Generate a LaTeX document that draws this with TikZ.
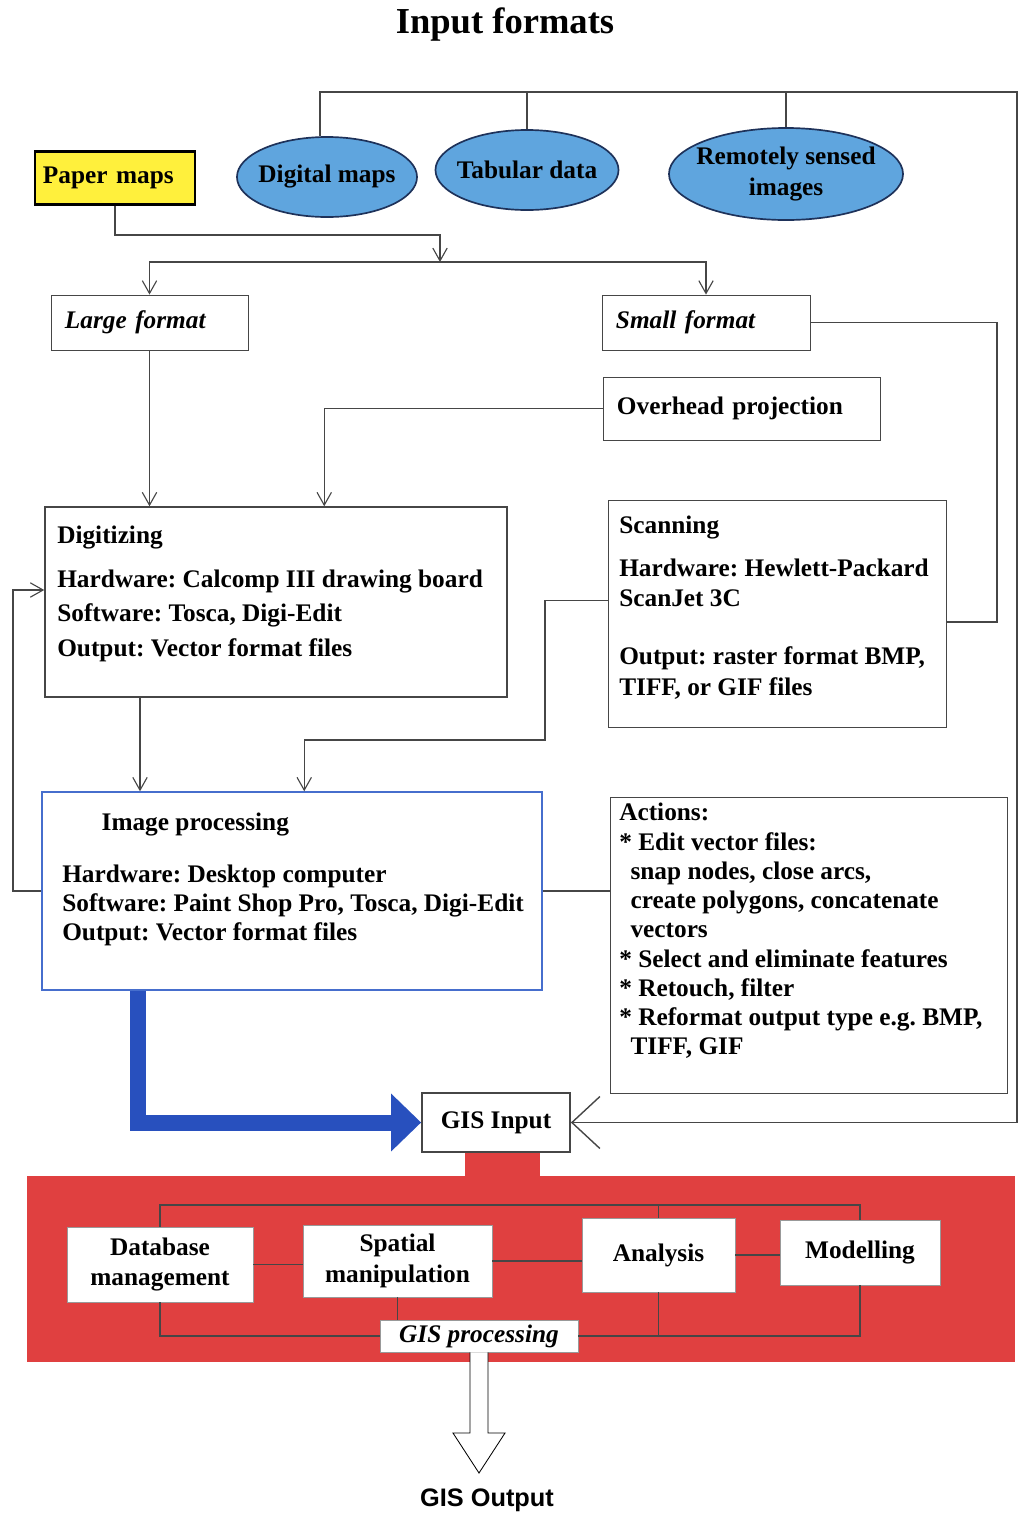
\documentclass[tikz,border=0pt]{standalone}
\usepackage{fontspec}
\setmainfont{Liberation Serif}
\setsansfont{Liberation Sans}
\frenchspacing
\usetikzlibrary{arrows.meta,calc,positioning,shapes.geometric}
\definecolor{paper}{RGB}{255,240,60}
\definecolor{sky}{RGB}{95,165,222}
\definecolor{navy}{RGB}{30,50,90}
\definecolor{blue}{RGB}{40,80,190}
\definecolor{frame}{RGB}{70,110,205}
\definecolor{red}{RGB}{224,64,64}
\definecolor{wire}{RGB}{70,70,70}
\begin{document}
\begin{tikzpicture}[x=0.025cm,y=-0.025cm,>={Straight Barb[length=3.2mm,width=3.6mm]},
  every node/.style={font=\bfseries\fontsize{18}{22}\selectfont},
  box/.style={draw=wire,line width=0.6pt,fill=white,align=center,inner sep=0pt},
  lbox/.style={box,align=left,inner xsep=0.35cm},
  tag/.style={lbox,font=\bfseries\itshape\fontsize{18}{22}\selectfont},
  blob/.style={ellipse,draw=navy,line width=1.2pt,fill=sky,align=center,inner sep=-6pt},
  body/.style={anchor=north west,align=left,inner sep=0pt,font=\bfseries\fontsize{18}{#1}\selectfont},
  cell/.style={fill=white,draw=black!40,line width=0.4pt,align=center,inner sep=0pt},
  link/.style={draw=wire,line width=0.8pt}]
\useasboundingbox (0,0) rectangle (1025,1514);
\fill[red] (27,1176) rectangle (1015,1362);
\fill[red] (465,1150) rectangle (540,1180);
\node[font=\bfseries\fontsize{26}{30}\selectfont] (title) at (505,25) {Input formats};
\node[lbox,draw=black,line width=1.5pt,fill=paper,inner xsep=0.2cm,text width=3.6cm,minimum height=1.325cm] (paper) at (115,178) {Paper maps};
\node[blob,minimum width=4.5cm,minimum height=2cm] (digital) at (327,177) {Digital maps};
\node[blob,minimum width=4.575cm,minimum height=2cm] (tabular) at (527,170) {Tabular data};
\node[blob,minimum width=5.85cm,minimum height=2.3cm] (remote) at (786,174) {Remotely sensed\\images};
\node[tag,text width=4.225cm,minimum height=1.375cm] (large) at (149.5,322.5) {Large format};
\node[tag,text width=4.5cm,minimum height=1.375cm] (small) at (706,322.5) {Small format};
\node[lbox,text width=6.225cm,minimum height=1.575cm] (overhead) at (741.5,408.5) {Overhead projection};
\node[box,line width=1pt,minimum width=11.55cm,minimum height=4.75cm] (digit) at (276,602) {};
\node[body=24.5pt] (digittext) at (57,526) {Digitizing\\[6.5pt]Hardware: Calcomp III drawing board\\Software: Tosca, Digi-Edit\\Output: Vector format files};
\node[box,minimum width=8.45cm,minimum height=5.675cm] (scan) at (777,613.5) {};
\node[body=22pt] (scantext) at (619,516) {Scanning\\[8pt]Hardware: Hewlett-Packard\\ScanJet 3C\\[19pt]Output: raster format BMP,\\TIFF, or GIF files};
\node[box,draw=frame,line width=1pt,minimum width=12.5cm,minimum height=4.95cm] (imgproc) at (292,891) {};
\node[body=20.7pt] (imgtext) at (62,813) {\hspace*{28pt}Image processing\\[16pt]Hardware: Desktop computer\\Software: Paint Shop Pro, Tosca, Digi-Edit\\Output: Vector format files};
\node[box,minimum width=9.925cm,minimum height=7.4cm] (actions) at (808.5,945) {};
\node[body=20.8pt] (acttext) at (619,803) {Actions:\\* Edit vector files:\\\hspace*{8pt}snap nodes, close arcs,\\\hspace*{8pt}create polygons, concatenate\\\hspace*{8pt}vectors\\* Select and eliminate features\\* Retouch, filter\\* Reformat output type e.g. BMP,\\\hspace*{8pt}TIFF, GIF};
\node[box,line width=1.2pt,minimum width=3.7cm,minimum height=1.475cm] (gisin) at (496,1122.5) {GIS Input};
\node[cell,minimum width=4.65cm,minimum height=1.875cm] (dbm) at (160,1264.5) {Database\\management};
\node[cell,minimum width=4.725cm,minimum height=1.8cm] (spat) at (397.5,1261) {Spatial\\manipulation};
\node[cell,minimum width=3.825cm,minimum height=1.85cm] (anal) at (658.5,1255) {Analysis};
\node[cell,minimum width=4cm,minimum height=1.625cm] (model) at (860,1252.5) {Modelling};
\node[cell,minimum width=4.95cm,minimum height=0.8cm,font=\bfseries\itshape\fontsize{18}{22}\selectfont] (gisproc) at (479,1336) {GIS processing};
\node[font=\sffamily\bfseries\fontsize{18}{22}\selectfont] (gisout) at (487,1500) {GIS Output};
\coordinate (ne) at (1017,92);
\coordinate (split) at (440,262);
\coordinate (dx) at (140,0);
\coordinate (bx) at (138,0);
\coordinate (sc) at (997,622);
\coordinate (fb) at (13,590);
\coordinate (bus) at (0,1205);
\coordinate (tip) at (479,1473);
\draw[link,line width=1pt,-{Straight Barb[length=7mm,width=13mm]}] ([xshift=-0.175cm]digital.north) |- (ne) |- (gisin.east);
\draw[link] (tabular.north) -- (tabular.north |- ne); \draw[link] (remote.north) -- (remote.north |- ne);
\draw[link,->] (paper.south) |- (440,235) -- (split);
\draw[link,->] (split) -| (large.north); \draw[link,->] (split) -| (small.north);
\draw[link,->] (large.south) -- (large.south |- digit.north);
\draw[link,->] (overhead.west) -| ($(digit.north west)+(280,0)$);
\draw[link] (small.east) -| (sc) -- (sc -| scan.east);
\draw[link,->] (digit.south -| dx) -- (imgproc.north -| dx);
\draw[link,->] ($(scan.west)+(0,-13)$) -| (545,740) -| ($(imgproc.north west)+(263,0)$);
\draw[link,->] (imgproc.west) -| (fb) -- (fb -| digit.west);
\draw[link] (imgproc.east) -- (imgproc.east -| actions.west);
\draw[blue,line width=4mm,-{Triangle[length=7.5mm,width=14mm]}] (imgproc.south -| bx) |- (gisin.west);
\draw[link] (dbm.north) |- (bus -| model.north) -- (model.north);
\draw[link] (anal.north) -- (anal.north |- bus);
\draw[link] (dbm.east) -- (dbm.east -| spat.west);
\draw[link] (spat.east) -- (spat.east -| anal.west);
\draw[link] (anal.east) -- (anal.east -| model.west);
\draw[link] (dbm.south) |- (gisproc.west);
\draw[link] (spat.south) -- (spat.south |- gisproc.north);
\draw[link] (model.south) |- (gisproc.east);
\draw[link] (anal.south) -- (anal.south |- gisproc.east);
\draw[fill=white,line width=0.6pt] ($(gisproc.south)+(-9,0)$) -- ($(tip)+(-9,-40)$) -- ($(tip)+(-26,-40)$) -- (tip) -- ($(tip)+(26,-40)$) -- ($(tip)+(9,-40)$) -- ($(gisproc.south)+(9,0)$);
\end{tikzpicture}
\end{document}
